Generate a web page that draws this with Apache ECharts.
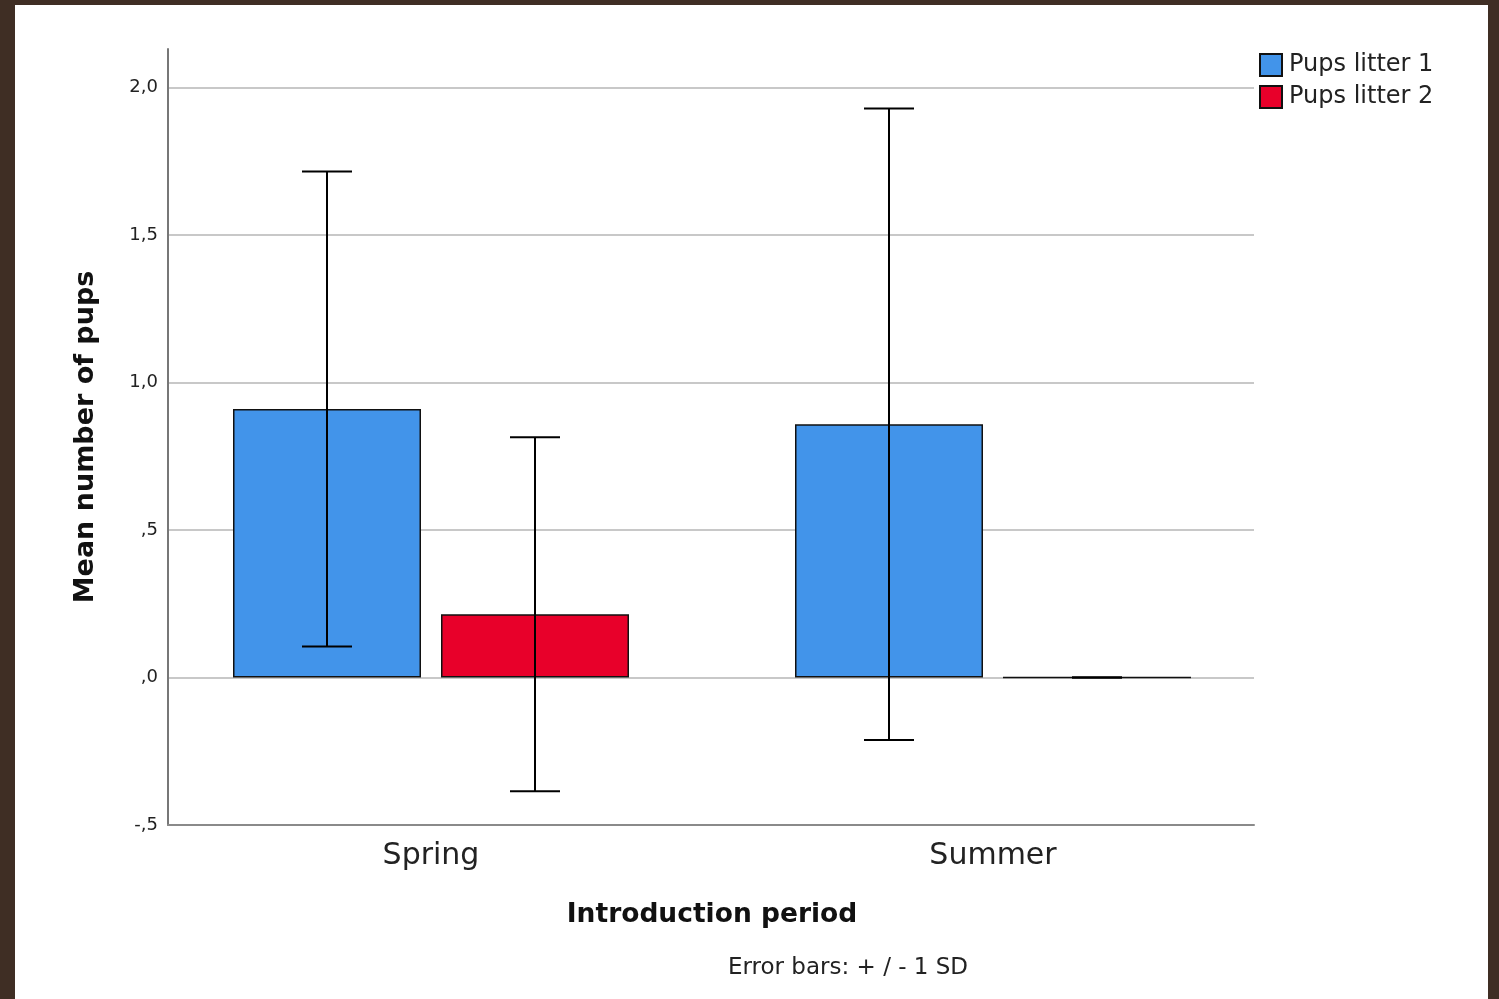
<!DOCTYPE html>
<html>
<head>
<meta charset="utf-8">
<script src="https://cdn.jsdelivr.net/npm/echarts@6/dist/echarts.min.js"></script>
<style>
html,body{margin:0;padding:0;background:#fff;}
#chart{width:1499px;height:999px;}
</style>
</head>
<body>
<div id="chart"></div>
<script>
var categories = ['Spring', 'Summer'];
var seriesNames = ['Pups litter 1', 'Pups litter 2'];
var litter1Mean = [0.91, 0.858];
var litter2Mean = [0.214, 0.0];
var litter1SD = [0.805, 1.07];
var litter2SD = [0.60, 0.0];
var yTickValues = [-0.5, 0, 0.5, 1.0, 1.5, 2.0];
var yTickLabels = ['-,5', ',0', ',5', '1,0', '1,5', '2,0'];

var BAR_W = 188, GAP = 20, CAP = 50;
var font = '"DejaVu Sans", sans-serif';

function errData(means, sds, sIdx) {
  return means.map(function (m, i) { return [i, m - sds[i], m + sds[i], sIdx]; });
}

function renderErr(params, api) {
  var cat = api.value(0), lo = api.value(1), hi = api.value(2), s = api.value(3);
  var off = (s === 0 ? -1 : 1) * (BAR_W / 2 + GAP / 2);
  var pLo = api.coord([cat, lo]);
  var pHi = api.coord([cat, hi]);
  var x = pLo[0] + off;
  var st = { stroke: '#000', lineWidth: 2 };
  return {
    type: 'group',
    children: [
      { type: 'line', shape: { x1: x, y1: pHi[1], x2: x, y2: pLo[1] }, style: st },
      { type: 'line', shape: { x1: x - CAP / 2, y1: pHi[1], x2: x + CAP / 2, y2: pHi[1] }, style: st },
      { type: 'line', shape: { x1: x - CAP / 2, y1: pLo[1], x2: x + CAP / 2, y2: pLo[1] }, style: st }
    ]
  };
}

var chart = echarts.init(document.getElementById('chart'));
var yMin = -0.5, yMax = 2.13;
var option = {
  backgroundColor: '#fff',
  animation: false,
  legend: {
    data: seriesNames,
    orient: 'vertical',
    left: 1254, top: 48,
    itemWidth: 22, itemHeight: 22, itemGap: 8,
    icon: 'rect',
    textStyle: { fontFamily: font, fontSize: 24, color: '#222', padding: [0, 0, 0, 2] }
  },
  grid: [
    { left: 168, right: 245, top: 49, bottom: 174 },
    { left: 150, right: 225, top: 49, bottom: 174 }
  ],
  xAxis: [
    { type: 'category', gridIndex: 0, data: categories,
      axisLine: { show: true, onZero: false, lineStyle: { color: '#8a8a8a', width: 2 } },
      axisTick: { show: false }, axisLabel: { show: false }, splitLine: { show: false } },
    { type: 'category', gridIndex: 1, data: categories,
      axisLine: { show: false, onZero: false }, axisTick: { show: false },
      axisLabel: { fontFamily: font, fontSize: 30, color: '#222', margin: 16 },
      name: 'Introduction period', nameLocation: 'middle', nameGap: 77,
      nameTextStyle: { fontFamily: font, fontSize: 26.5, fontWeight: 'bold', color: '#111' },
      barCategoryGap: '29.5%' }
  ],
  yAxis: [
    { type: 'value', gridIndex: 0, min: yMin, max: yMax, interval: 0.5,
      axisLine: { show: true, lineStyle: { color: '#777', width: 2 } },
      axisTick: { show: false },
      axisLabel: { fontFamily: font, fontSize: 18, color: '#222', margin: 10,
        showMaxLabel: false,
        formatter: function (v) {
          for (var i = 0; i < yTickValues.length; i++) {
            if (Math.abs(v - yTickValues[i]) < 1e-6) return yTickLabels[i];
          }
          return '';
        } },
      splitLine: { show: true, showMinLine: false, showMaxLine: false, lineStyle: { color: '#c8c8c8', width: 2 } },
      name: 'Mean number of pups', nameLocation: 'middle', nameGap: 69, nameRotate: 90,
      nameTextStyle: { fontFamily: font, fontSize: 27, fontWeight: 'bold', color: '#111' } },
    { type: 'value', gridIndex: 1, min: yMin, max: yMax, interval: 0.5, show: false,
      splitLine: { show: false } }
  ],
  series: [
    { name: seriesNames[0], type: 'bar', xAxisIndex: 1, yAxisIndex: 1, data: litter1Mean,
      barWidth: BAR_W, barGap: (GAP / BAR_W * 100) + '%',
      itemStyle: { color: '#4294ea', borderColor: '#111', borderWidth: 1.5 } },
    { name: seriesNames[1], type: 'bar', xAxisIndex: 1, yAxisIndex: 1, data: litter2Mean,
      barWidth: BAR_W, barGap: (GAP / BAR_W * 100) + '%',
      itemStyle: { color: '#e8002a', borderColor: '#111', borderWidth: 1.5 } },
    { type: 'custom', xAxisIndex: 1, yAxisIndex: 1, renderItem: renderErr,
      data: errData(litter1Mean, litter1SD, 0), z: 10, silent: true },
    { type: 'custom', xAxisIndex: 1, yAxisIndex: 1, renderItem: renderErr,
      data: errData(litter2Mean, litter2SD, 1), z: 10, silent: true }
  ],
  graphic: [
    { type: 'rect', left: 0, top: 0, shape: { width: 15, height: 999 }, style: { fill: '#3f2e24' } },
    { type: 'rect', left: 0, top: 0, shape: { width: 1499, height: 5 }, style: { fill: '#3f2e24' } },
    { type: 'rect', left: 1488, top: 0, shape: { width: 11, height: 999 }, style: { fill: '#3f2e24' } },
    { type: 'text', left: 728, top: 957,
      style: { text: 'Error bars: + / - 1 SD', font: '23px ' + font, fill: '#222' } }
  ]
};
chart.setOption(option);
</script>
</body>
</html>
